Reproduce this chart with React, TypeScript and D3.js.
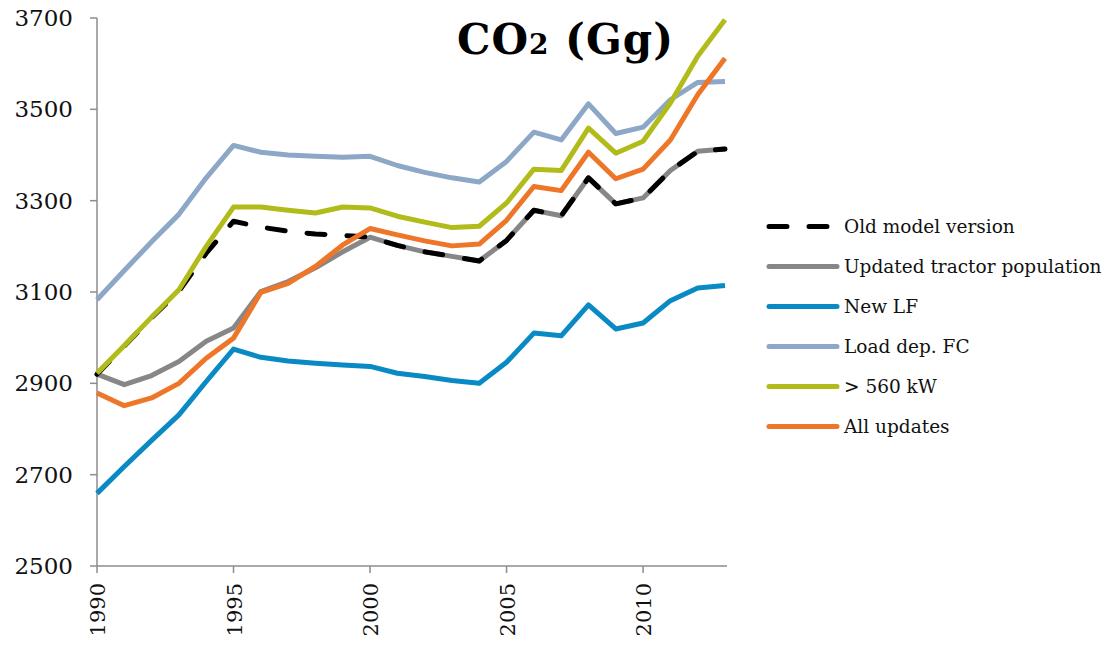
import React from "react";
import * as d3 from "d3";

// Years on the category axis
const years: number[] = d3.range(1990, 2014);

// CO2 emissions (Gg) per scenario, 1990–2013
const oldModel: number[] = [2920, 2982, 3044, 3102, 3185, 3255, 3242, 3233, 3227, 3224, 3220, 3202, 3188, 3178, 3168, 3213, 3279, 3267, 3350, 3293, 3306, 3366, 3408, 3413];
const tractorPop: number[] = [2920, 2897, 2917, 2948, 2992, 3021, 3101, 3123, 3153, 3188, 3220, 3202, 3188, 3178, 3168, 3213, 3279, 3267, 3350, 3293, 3306, 3366, 3408, 3413];
const newLF: number[] = [2659, 2718, 2775, 2831, 2904, 2975, 2957, 2949, 2944, 2940, 2937, 2922, 2915, 2906, 2900, 2946, 3010, 3004, 3072, 3019, 3032, 3081, 3109, 3114];
const loadDepFC: number[] = [3083, 3147, 3210, 3270, 3350, 3421, 3406, 3400, 3397, 3395, 3397, 3377, 3362, 3350, 3341, 3386, 3450, 3433, 3512, 3447, 3461, 3521, 3559, 3561];
const over560: number[] = [2922, 2983, 3045, 3105, 3200, 3286, 3286, 3279, 3273, 3286, 3284, 3266, 3253, 3241, 3244, 3295, 3369, 3366, 3459, 3404, 3430, 3514, 3616, 3696];
const allUpdates: number[] = [2879, 2851, 2868, 2900, 2955, 2999, 3099, 3119, 3156, 3203, 3239, 3225, 3212, 3201, 3205, 3257, 3331, 3322, 3406, 3348, 3369, 3433, 3532, 3612];

const yTicks: number[] = [2500, 2700, 2900, 3100, 3300, 3500, 3700];
const xTicks: number[] = [1990, 1995, 2000, 2005, 2010];

type Series = { name: string; values: number[]; color: string; dashed?: boolean };

const legendOrder: Series[] = [
  { name: "Old model version", values: oldModel, color: "#000000", dashed: true },
  { name: "Updated tractor population", values: tractorPop, color: "#878787" },
  { name: "New LF", values: newLF, color: "#0A8AC5" },
  { name: "Load dep. FC", values: loadDepFC, color: "#8DA7C7" },
  { name: "> 560 kW", values: over560, color: "#B1BC1B" },
  { name: "All updates", values: allUpdates, color: "#EE7628" },
];

// paint order: grey underneath the dashed line, orange on top
const drawOrder: number[] = [1, 0, 2, 3, 4, 5];

const W = 1110;
const H = 651;
const FONT = "'DejaVu Serif', 'Liberation Serif', serif";

export default function App() {
  const x = d3.scaleLinear().domain([1990, 2013]).range([97, 725]);
  const y = d3.scaleLinear().domain([2500, 3700]).range([566, 18]);
  const axisColor = "#8c8c8c";

  const line = d3
    .line<number>()
    .x((_, i) => x(years[i]))
    .y((d) => y(d));

  return (
    <svg
      width={W}
      height={H}
      style={{ position: "absolute", left: 0, top: 0, background: "#fff" }}
      fontFamily={FONT}
    >
      {/* y axis */}
      <line x1={97} x2={97} y1={y(3700)} y2={y(2500)} stroke={axisColor} strokeWidth={1.5} />
      {yTicks.map((t) => (
        <g key={t}>
          <line x1={90} x2={97} y1={y(t)} y2={y(t)} stroke={axisColor} strokeWidth={1.5} />
          <text x={73} y={y(t) + 8} textAnchor="end" fontSize={23} fill="#111">
            {t}
          </text>
        </g>
      ))}

      {/* x axis */}
      <line x1={97} x2={x(2013) + 2} y1={y(2500)} y2={y(2500)} stroke={axisColor} strokeWidth={1.5} />
      {xTicks.map((t) => (
        <g key={t}>
          <line x1={x(t)} x2={x(t)} y1={y(2500)} y2={y(2500) + 7} stroke={axisColor} strokeWidth={1.5} />
          <text
            transform={`translate(${x(t) + 8},${583}) rotate(-90)`}
            textAnchor="end"
            fontSize={21}
            fill="#111"
          >
            {t}
          </text>
        </g>
      ))}

      {/* series */}
      {drawOrder.map((i) => {
        const s = legendOrder[i];
        return (
          <path
            key={s.name}
            d={line(s.values) || ""}
            fill="none"
            stroke={s.color}
            strokeWidth={5}
            strokeLinejoin="round"
            strokeLinecap={s.dashed ? "round" : "butt"}
            strokeDasharray={s.dashed ? "18 22" : undefined}
          />
        );
      })}

      {/* title */}
      <text x={457} y={54} fontSize={42} fontWeight="bold" fill="#000" letterSpacing={1}>
        CO<tspan fontSize={28}>2</tspan> (Gg)
      </text>

      {/* legend */}
      {legendOrder.map((s, i) => {
        const ly = 226.5 + i * 40;
        return (
          <g key={s.name}>
            <line
              x1={769}
              x2={837}
              y1={ly}
              y2={ly}
              stroke={s.color}
              strokeWidth={5}
              strokeLinecap="round"
              strokeDasharray={s.dashed ? "18 22" : undefined}
            />
            <text x={844} y={ly + 6.5} fontSize={18.5} fill="#111">
              {s.name}
            </text>
          </g>
        );
      })}
    </svg>
  );
}
